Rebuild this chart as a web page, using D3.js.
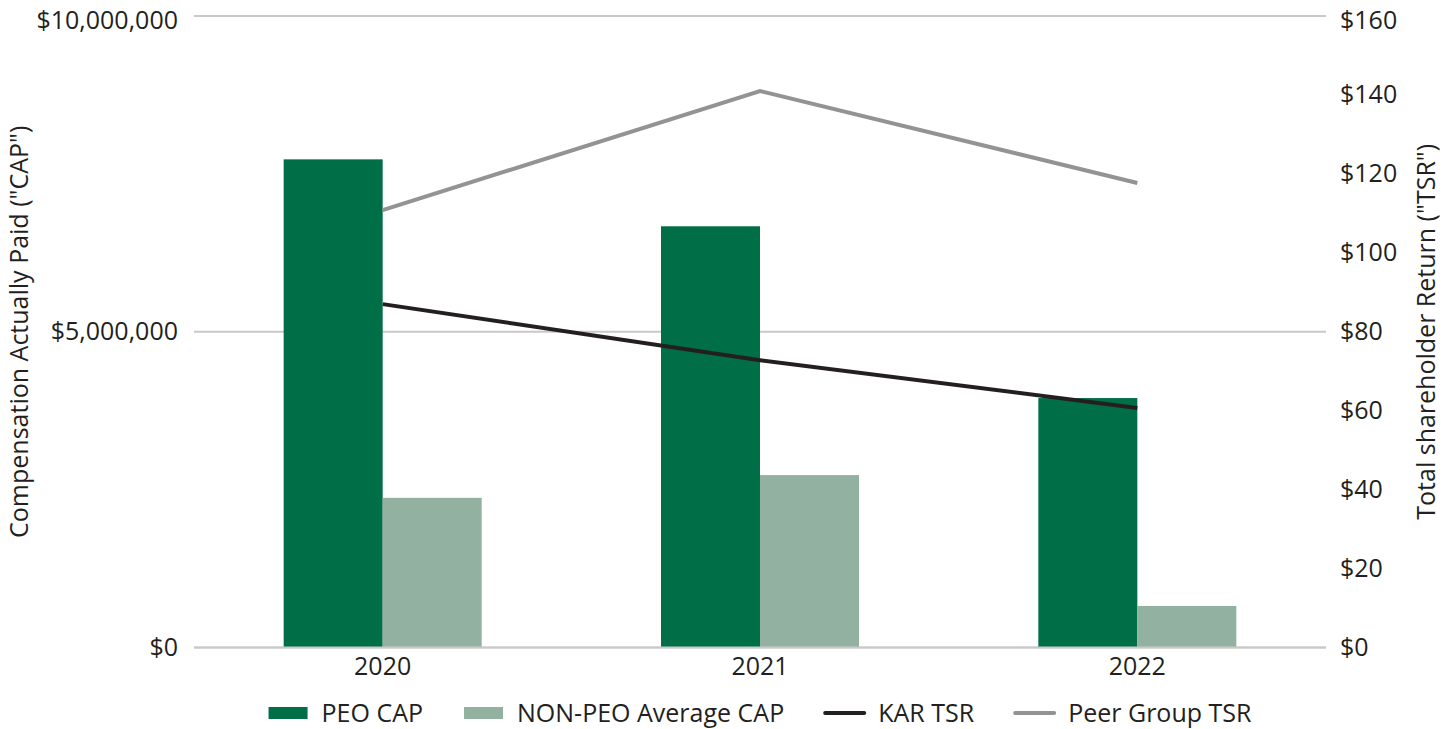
<!DOCTYPE html>
<html><head><meta charset="utf-8">
<script src="https://cdn.jsdelivr.net/npm/d3@7"></script>
<style>body{margin:0;background:#fff;} text{font-family:"Open Sans",sans-serif;fill:#231f20;}</style>
</head><body>
<svg id="c" width="1443" height="729"></svg>
<script>
const categories = ["2020", "2021", "2022"];
const peoCap = [7730000, 6670000, 3950000];
const nonPeoCap = [2370000, 2730000, 657000];
const karTsr = [87.0, 72.8, 60.7];
const peerTsr = [110.8, 141.0, 117.7];
const leftTicks = [0, 5000000, 10000000];
const rightTicks = [0, 20, 40, 60, 80, 100, 120, 140, 160];
const legendLabels = ["PEO CAP", "NON-PEO Average CAP", "KAR TSR", "Peer Group TSR"];

const colors = {peo:"#006e47", nonpeo:"#93b1a0", kar:"#231f20", peer:"#939393", grid:"#c9c9c9"};
const svg = d3.select("#c");
const L = 194, R = 1326, T = 16, B = 647.5;
const fs = 25;

const x = d3.scaleBand().domain(categories).range([L, R]);
const yL = d3.scaleLinear().domain([0, 10000000]).range([B, T]);
const yR = d3.scaleLinear().domain([0, 160]).range([B, T]);
const barW = 99;

// grid lines
svg.append("g").selectAll("line").data(leftTicks).join("line")
  .attr("x1", L).attr("x2", R).attr("y1", d => yL(d)).attr("y2", d => yL(d))
  .attr("stroke", colors.grid).attr("stroke-width", 2);

// left axis
const fmtL = d => "$" + d3.format(",")(d);
const gL = svg.append("g").attr("transform", `translate(${L},0)`)
  .call(d3.axisLeft(yL).tickValues(leftTicks).tickFormat(fmtL).tickSize(0).tickPadding(16));
gL.select(".domain").remove();
gL.selectAll("text").style("font-size", fs + "px").style("font-family", "Open Sans").attr("fill", "#231f20")
  .attr("dy", d => d === 10000000 ? "0.48em" : "0.32em");

// right axis
const gR = svg.append("g").attr("transform", `translate(${R},0)`)
  .call(d3.axisRight(yR).tickValues(rightTicks).tickFormat(d => "$" + d).tickSize(0).tickPadding(14));
gR.select(".domain").remove();
gR.selectAll("text").style("font-size", fs + "px").style("font-family", "Open Sans").attr("fill", "#231f20")
  .attr("dy", d => d === 160 ? "0.48em" : "0.32em");

// x axis
const gX = svg.append("g").attr("transform", `translate(0,${B})`)
  .call(d3.axisBottom(x).tickSize(0).tickPadding(10));
gX.select(".domain").remove();
gX.selectAll("text").style("font-size", fs + "px").style("font-family", "Open Sans").attr("fill", "#231f20");

// bars
const cx = c => x(c) + x.bandwidth() / 2;
svg.append("g").selectAll("rect").data(categories).join("rect")
  .attr("x", d => cx(d) - barW).attr("width", barW)
  .attr("y", (d, i) => yL(peoCap[i])).attr("height", (d, i) => B - yL(peoCap[i]))
  .attr("fill", colors.peo);
svg.append("g").selectAll("rect").data(categories).join("rect")
  .attr("x", d => cx(d)).attr("width", barW)
  .attr("y", (d, i) => yL(nonPeoCap[i])).attr("height", (d, i) => B - yL(nonPeoCap[i]))
  .attr("fill", colors.nonpeo);

// baseline
svg.append("line").attr("x1", L).attr("x2", R).attr("y1", B).attr("y2", B)
  .attr("stroke", colors.grid).attr("stroke-width", 2);

// lines
const line = d3.line().x((d, i) => cx(categories[i])).y(d => yR(d));
svg.append("path").datum(peerTsr).attr("d", line).attr("fill", "none")
  .attr("stroke", colors.peer).attr("stroke-width", 4);
svg.append("path").datum(karTsr).attr("d", line).attr("fill", "none")
  .attr("stroke", colors.kar).attr("stroke-width", 4);

// axis titles
svg.append("text").attr("transform", `translate(28,${(T + B) / 2}) rotate(-90)`)
  .attr("text-anchor", "middle").style("font-size", fs + "px")
  .text('Compensation Actually Paid ("CAP")');
svg.append("text").attr("transform", `translate(1435,${(T + B) / 2}) rotate(-90)`)
  .attr("text-anchor", "middle").style("font-size", fs + "px")
  .text('Total shareholder Return ("TSR")');

// legend
const types = ["rect", "rect", "line", "line"];
const lcol = [colors.peo, colors.nonpeo, colors.kar, colors.peer];
const leg = svg.append("g");
let lx = 0;
const swW = 39, gap1 = 14, gap2 = 41, ly = 713;
legendLabels.forEach((lab, i) => {
  const g = leg.append("g").attr("transform", `translate(${lx},0)`);
  if (types[i] === "rect") {
    g.append("rect").attr("x", 0).attr("y", ly - 6).attr("width", swW).attr("height", 12).attr("fill", lcol[i]);
  } else {
    g.append("line").attr("x1", 0).attr("x2", swW).attr("y1", ly).attr("y2", ly)
      .attr("stroke", lcol[i]).attr("stroke-width", 4).attr("stroke-linecap", "round");
  }
  const t = g.append("text").attr("x", swW + gap1).attr("y", ly).attr("dy", "0.35em")
    .style("font-size", fs + "px").text(lab);
  lx += swW + gap1 + t.node().getComputedTextLength() + gap2;
});
const legW = lx - gap2;
leg.attr("transform", `translate(${(L + R) / 2 - legW / 2},0)`);
</script>
</body></html>
